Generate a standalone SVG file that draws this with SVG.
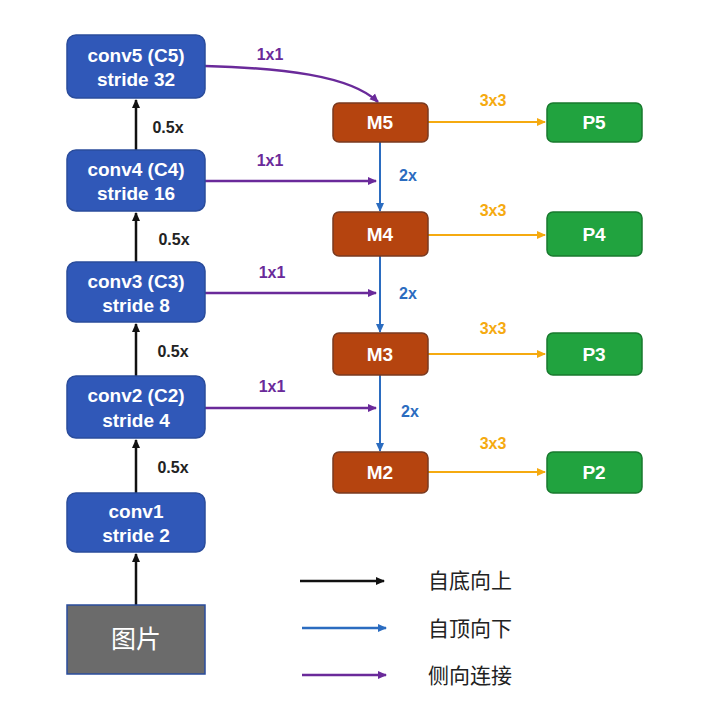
<svg xmlns="http://www.w3.org/2000/svg" width="724" height="701" viewBox="0 0 724 701">
<style>
.c{fill:#3058b8;stroke:#2a4c9c;stroke-width:1.5}
.m{fill:#b5440f;stroke:#7a3a20;stroke-width:1.5}
.p{fill:#21a33f;stroke:#187a2e;stroke-width:1.5}
text{font-family:"Liberation Sans","Noto Sans CJK SC",sans-serif;font-weight:bold;text-anchor:middle}
.w{fill:#fff;font-size:19px}
.k{fill:#222;font-size:16px}
.pu{fill:#6a2a9a;font-size:16px}
.bl{fill:#2b6cc0;font-size:16px}
.or{fill:#f5aa10;font-size:16px}
.lg{fill:#222;font-size:21px;font-weight:normal;text-anchor:start}
</style>
<defs>
<marker id="ak" markerWidth="10" markerHeight="10" refX="8" refY="5" orient="auto" markerUnits="userSpaceOnUse"><path d="M0,1 L9,5 L0,9Z" fill="#111"/></marker>
<marker id="ab" markerWidth="10" markerHeight="10" refX="8" refY="5" orient="auto" markerUnits="userSpaceOnUse"><path d="M0,1 L9,5 L0,9Z" fill="#2b6cc0"/></marker>
<marker id="ap" markerWidth="10" markerHeight="10" refX="8" refY="5" orient="auto" markerUnits="userSpaceOnUse"><path d="M0,1 L9,5 L0,9Z" fill="#6a2a9a"/></marker>
<marker id="ao" markerWidth="10" markerHeight="10" refX="8" refY="5" orient="auto" markerUnits="userSpaceOnUse"><path d="M0,1 L9,5 L0,9Z" fill="#f5aa10"/></marker>
</defs>
<g id="connectors" fill="none" stroke-width="2.5">
<g stroke="#111" marker-end="url(#ak)">
<line x1="136" y1="605" x2="136" y2="554"/>
<line x1="136" y1="493" x2="136" y2="440"/>
<line x1="136" y1="376" x2="136" y2="324"/>
<line x1="136" y1="262" x2="136" y2="213"/>
<line x1="136" y1="150" x2="136" y2="100"/>
</g>
<g stroke="#6a2a9a" marker-end="url(#ap)">
<path d="M205,66 C280,68 350,75 378,102"/>
<line x1="205" y1="181" x2="376" y2="181"/>
<line x1="205" y1="293" x2="376" y2="293"/>
<line x1="205" y1="408" x2="376" y2="408"/>
</g>
<g stroke="#2b6cc0" stroke-width="2" marker-end="url(#ab)">
<line x1="380" y1="142" x2="380" y2="211"/>
<line x1="380" y1="256" x2="380" y2="332"/>
<line x1="380" y1="375" x2="380" y2="451"/>
</g>
<g stroke="#f5aa10" stroke-width="2" marker-end="url(#ao)">
<line x1="428" y1="122" x2="545" y2="122"/>
<line x1="428" y1="235" x2="545" y2="235"/>
<line x1="428" y1="354" x2="545" y2="354"/>
<line x1="428" y1="472" x2="545" y2="472"/>
</g>
<line x1="300" y1="581" x2="384" y2="581" stroke="#111" marker-end="url(#ak)"/>
<line x1="302" y1="628" x2="386" y2="628" stroke="#2b6cc0" marker-end="url(#ab)"/>
<line x1="302" y1="675" x2="386" y2="675" stroke="#6a2a9a" marker-end="url(#ap)"/>
</g>
<g id="labels">
<text class="pu" x="270" y="60">1x1</text>
<text class="pu" x="270" y="166">1x1</text>
<text class="pu" x="272" y="278">1x1</text>
<text class="pu" x="272" y="392">1x1</text>
<text class="k" x="168" y="133">0.5x</text>
<text class="k" x="174" y="245">0.5x</text>
<text class="k" x="173" y="357">0.5x</text>
<text class="k" x="173" y="473">0.5x</text>
<text class="bl" x="408" y="181">2x</text>
<text class="bl" x="408" y="299">2x</text>
<text class="bl" x="410" y="417">2x</text>
<text class="or" x="493" y="106">3x3</text>
<text class="or" x="493" y="216">3x3</text>
<text class="or" x="493" y="334">3x3</text>
<text class="or" x="493" y="449">3x3</text>
</g>
<g id="conv5"><rect class="c" x="67" y="35" width="138" height="63" rx="9"/><text class="w" x="136" y="62">conv5 (C5)</text><text class="w" x="136" y="86">stride 32</text></g>
<g id="conv4"><rect class="c" x="67" y="150" width="138" height="61" rx="9"/><text class="w" x="136" y="176">conv4 (C4)</text><text class="w" x="136" y="200">stride 16</text></g>
<g id="conv3"><rect class="c" x="67" y="262" width="138" height="60" rx="9"/><text class="w" x="136" y="288">conv3 (C3)</text><text class="w" x="136" y="312">stride 8</text></g>
<g id="conv2"><rect class="c" x="67" y="376" width="138" height="62" rx="9"/><text class="w" x="136" y="402">conv2 (C2)</text><text class="w" x="136" y="427">stride 4</text></g>
<g id="conv1"><rect class="c" x="67" y="493" width="138" height="59" rx="9"/><text class="w" x="136" y="518">conv1</text><text class="w" x="136" y="542">stride 2</text></g>
<g id="image"><rect x="67" y="605" width="138" height="69" fill="#6b6b6b" stroke="#2a4c9c" stroke-width="1.5"/><text x="136" y="648" fill="#fff" style="font-size:25px;font-weight:normal">图片</text></g>
<g id="M5"><rect class="m" x="333" y="103" width="95" height="39" rx="6"/><text class="w" x="380" y="129">M5</text></g>
<g id="M4"><rect class="m" x="333" y="212" width="95" height="44" rx="6"/><text class="w" x="380" y="241">M4</text></g>
<g id="M3"><rect class="m" x="333" y="333" width="95" height="42" rx="6"/><text class="w" x="380" y="361">M3</text></g>
<g id="M2"><rect class="m" x="333" y="452" width="95" height="41" rx="6"/><text class="w" x="380" y="479">M2</text></g>
<g id="P5"><rect class="p" x="547" y="103" width="95" height="39" rx="6"/><text class="w" x="594" y="129">P5</text></g>
<g id="P4"><rect class="p" x="547" y="212" width="95" height="44" rx="6"/><text class="w" x="594" y="241">P4</text></g>
<g id="P3"><rect class="p" x="547" y="333" width="95" height="42" rx="6"/><text class="w" x="594" y="361">P3</text></g>
<g id="P2"><rect class="p" x="547" y="452" width="95" height="41" rx="6"/><text class="w" x="594" y="479">P2</text></g>
<g id="legend">
<text class="lg" x="428" y="588">自底向上</text>
<text class="lg" x="428" y="636">自顶向下</text>
<text class="lg" x="428" y="683">侧向连接</text>
</g>
</svg>
